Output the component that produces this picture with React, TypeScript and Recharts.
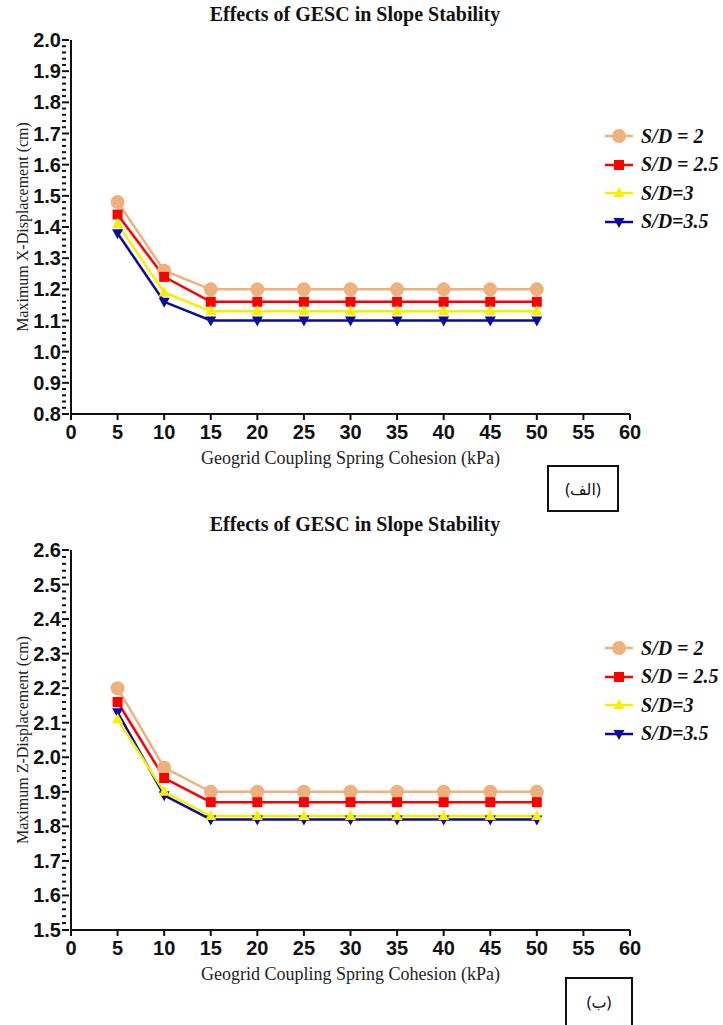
import { LineChart, Line, XAxis, YAxis, Label } from "recharts";

const cohesion = [5, 10, 15, 20, 25, 30, 35, 40, 45, 50];
const xTicks = [0, 5, 10, 15, 20, 25, 30, 35, 40, 45, 50, 55, 60];

// Maximum X-displacement (cm)
const xSd2 = [1.48, 1.26, 1.2, 1.2, 1.2, 1.2, 1.2, 1.2, 1.2, 1.2];
const xSd25 = [1.44, 1.24, 1.16, 1.16, 1.16, 1.16, 1.16, 1.16, 1.16, 1.16];
const xSd3 = [1.41, 1.19, 1.13, 1.13, 1.13, 1.13, 1.13, 1.13, 1.13, 1.13];
const xSd35 = [1.38, 1.16, 1.1, 1.1, 1.1, 1.1, 1.1, 1.1, 1.1, 1.1];

// Maximum Z-displacement (cm)
const zSd2 = [2.2, 1.97, 1.9, 1.9, 1.9, 1.9, 1.9, 1.9, 1.9, 1.9];
const zSd25 = [2.16, 1.94, 1.87, 1.87, 1.87, 1.87, 1.87, 1.87, 1.87, 1.87];
const zSd3 = [2.11, 1.9, 1.83, 1.83, 1.83, 1.83, 1.83, 1.83, 1.83, 1.83];
const zSd35 = [2.13, 1.89, 1.82, 1.82, 1.82, 1.82, 1.82, 1.82, 1.82, 1.82];

const seriesNames = ["S/D = 2", "S/D = 2.5", "S/D=3", "S/D=3.5"];
const seriesKeys = ["sd2", "sd25", "sd3", "sd35"];
const seriesColors = ["#EEB07C", "#FF0000", "#F5F000", "#0A0AA0"];
const seriesShapes = ["circle", "square", "up", "down"];

const xYTicks = [0.8, 0.9, 1.0, 1.1, 1.2, 1.3, 1.4, 1.5, 1.6, 1.7, 1.8, 1.9, 2.0];
const zYTicks = [1.5, 1.6, 1.7, 1.8, 1.9, 2.0, 2.1, 2.2, 2.3, 2.4, 2.5, 2.6];

const buildRows = (a: number[], b: number[], c: number[], d: number[]) =>
  cohesion.map((x, i) => ({ x, sd2: a[i], sd25: b[i], sd3: c[i], sd35: d[i] }));

const xRows = buildRows(xSd2, xSd25, xSd3, xSd35);
const zRows = buildRows(zSd2, zSd25, zSd3, zSd35);

// major ticks every 0.1 with labels, minor every 0.02
const withMinor = (majors: number[]) => {
  const out: number[] = [];
  for (let i = 0; i < majors.length - 1; i++) {
    for (let k = 0; k < 5; k++) out.push(Math.round((majors[i] + k * 0.02) * 100) / 100);
  }
  out.push(majors[majors.length - 1]);
  return out;
};

const serif = "Liberation Serif, Times New Roman, serif";
const tickFont = { fontFamily: "Liberation Sans, Arial, sans-serif", fontWeight: 700, fontSize: 20, fill: "#111" };

function Marker({ cx, cy, shape, color, size = 1 }: any) {
  if (cx == null || cy == null) return null;
  if (shape === "circle") return <circle cx={cx} cy={cy} r={7 * size} fill={color} />;
  if (shape === "square") return <rect x={cx - 5 * size} y={cy - 5 * size} width={10 * size} height={10 * size} fill={color} />;
  if (shape === "up")
    return <polygon points={`${cx},${cy - 6 * size} ${cx + 5.5 * size},${cy + 4 * size} ${cx - 5.5 * size},${cy + 4 * size}`} fill={color} />;
  return <polygon points={`${cx},${cy + 6 * size} ${cx + 5.5 * size},${cy - 4 * size} ${cx - 5.5 * size},${cy - 4 * size}`} fill={color} />;
}

function YTick({ x, y, payload }: any) {
  const v = payload.value;
  const major = Math.abs(Math.round(v * 10) - v * 10) < 1e-6;
  return (
    <g>
      <line x1={x} x2={x + (major ? 7 : 4)} y1={y} y2={y} stroke="#111" strokeWidth={2} />
      {major && (
        <text x={x - 1} y={y} dy={7} textAnchor="end" {...tickFont}>
          {v.toFixed(1)}
        </text>
      )}
    </g>
  );
}

function Legend({ top, gap }: { top: number; gap: number }) {
  return (
    <div style={{ position: "absolute", left: 603, top }}>
      {seriesNames.map((n, i) => (
        <div key={n} style={{ position: "absolute", top: i * gap - 12, left: 0, height: 24, width: 140, display: "flex", alignItems: "center" }}>
          <svg width={32} height={24}>
            <line x1={2} x2={30} y1={12} y2={12} stroke={seriesColors[i]} strokeWidth={2.5} />
            <Marker cx={16} cy={12} shape={seriesShapes[i]} color={seriesColors[i]} />
          </svg>
          <span style={{ marginLeft: 6, fontFamily: serif, fontWeight: 700, fontStyle: "italic", fontSize: 20, color: "#111", whiteSpace: "nowrap" }}>
            {n}
          </span>
        </div>
      ))}
    </div>
  );
}

function Panel({ rows, yTicks, yLabel, height, plotH, legendTop, legendGap }: any) {
  const yMin = yTicks[0];
  const yMax = yTicks[yTicks.length - 1];
  const labelCy = 40 + plotH / 2;
  return (
    <div style={{ position: "relative", width: 723, height }}>
      <div style={{ position: "absolute", left: 0, width: 710, top: 3, textAlign: "center", fontFamily: serif, fontWeight: 700, fontSize: 20, color: "#111" }}>
        Effects of GESC in Slope Stability
      </div>
      <LineChart width={723} height={height} data={rows} margin={{ top: 40, right: 93, left: 11, bottom: height - 40 - plotH - 30 }}>
        <XAxis
          dataKey="x"
          type="number"
          domain={[0, 60]}
          ticks={xTicks}
          interval={0}
          height={30}
          axisLine={{ stroke: "#111", strokeWidth: 2 }}
          tickLine={{ stroke: "#111", strokeWidth: 2 }}
          tickSize={6}
          tick={{ ...tickFont, dy: 3 }}
        >
          <Label
            value="Geogrid Coupling Spring Cohesion (kPa)"
            position="bottom"
            offset={7}
            style={{ fontFamily: serif, fontSize: 18, fill: "#222" }}
          />
        </XAxis>
        <YAxis
          type="number"
          domain={[yMin, yMax]}
          ticks={withMinor(yTicks)}
          interval={0}
          width={60}
          axisLine={{ stroke: "#111", strokeWidth: 2 }}
          tickLine={false}
          tickSize={7}
          tick={<YTick />}
          allowDataOverflow
        >
          <Label
            content={() => {
              const cx = 22;
              const cy = labelCy;
              return (
                <text x={cx} y={cy} transform={`rotate(-90 ${cx} ${cy})`} textAnchor="middle" dominantBaseline="central" style={{ fontFamily: serif, fontSize: 16, fill: "#222" }}>
                  {yLabel}
                </text>
              );
            }}
          />
        </YAxis>
        {[0, 1, 3, 2].map((i) => (
          <Line
            key={seriesKeys[i]}
            dataKey={seriesKeys[i]}
            name={seriesNames[i]}
            type="linear"
            stroke={seriesColors[i]}
            strokeWidth={2.5}
            dot={(p: any) => <Marker key={`${seriesKeys[i]}-${p.index}`} cx={p.cx} cy={p.cy} shape={seriesShapes[i]} color={seriesColors[i]} />}
            activeDot={false}
            isAnimationActive={false}
          />
        ))}
      </LineChart>
      <Legend top={legendTop} gap={legendGap} />
    </div>
  );
}

export default function App() {
  return (
    <div style={{ position: "absolute", left: 0, top: 0, width: 723, height: 1025, background: "#fff" }}>
      <Panel rows={xRows} yTicks={xYTicks} yLabel="Maximum X-Displacement (cm)" height={510} plotH={374} legendTop={136} legendGap={28.5} />
      <div style={{ position: "absolute", left: 547, top: 465, width: 72, height: 47, border: "2px solid #111", display: "flex", alignItems: "center", justifyContent: "center", fontFamily: "Noto Sans, DejaVu Sans, sans-serif", fontSize: 16, color: "#111", boxSizing: "border-box" }}>
        (الف)
      </div>
      <div style={{ position: "absolute", left: 0, top: 510 }}>
        <Panel rows={zRows} yTicks={zYTicks} yLabel="Maximum Z-Displacement (cm)" height={515} plotH={380} legendTop={138} legendGap={28.5} />
      </div>
      <div style={{ position: "absolute", left: 565, top: 977, width: 68, height: 50, border: "2px solid #111", display: "flex", alignItems: "center", justifyContent: "center", fontFamily: "Noto Sans, DejaVu Sans, sans-serif", fontSize: 16, color: "#111", boxSizing: "border-box" }}>
        (ب)
      </div>
    </div>
  );
}
